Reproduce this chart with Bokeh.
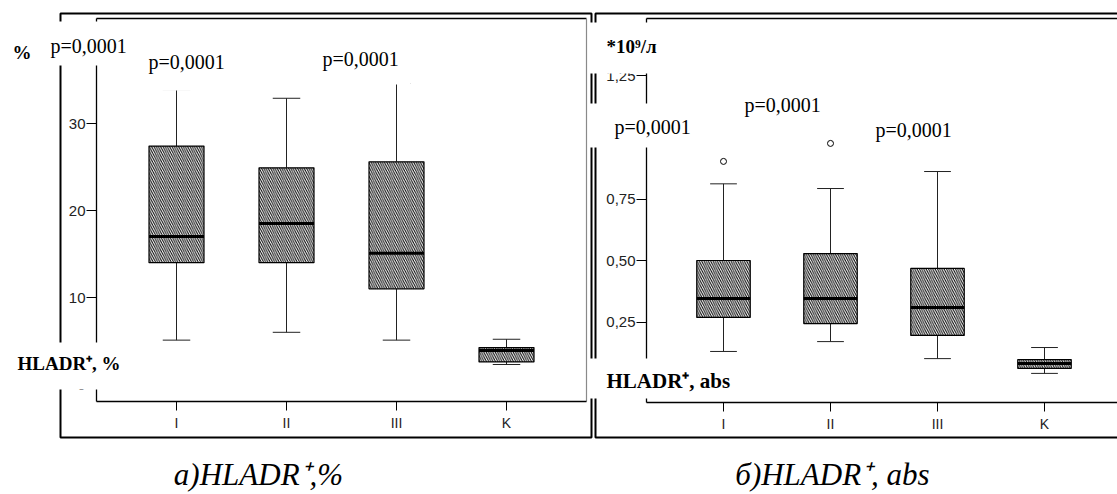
from bokeh.plotting import figure
from bokeh.models import Range1d, LinearAxis, FixedTicker, BoxAnnotation, Label
from bokeh.embed import file_html
from bokeh.resources import INLINE

# ---------------- data ----------------
groups = ["I", "II", "III", "K"]
group_pos = [1, 2, 3, 4]

pct_lower = [5.1, 6.0, 5.1, 2.3]
pct_q1 = [14.0, 14.0, 11.0, 2.6]
pct_median = [17.0, 18.5, 15.1, 3.9]
pct_q3 = [27.4, 24.9, 25.6, 4.25]
pct_upper = [33.9, 32.9, 34.6, 5.2]

abs_lower = [0.132, 0.172, 0.103, 0.043]
abs_q1 = [0.270, 0.245, 0.197, 0.063]
abs_median = [0.347, 0.347, 0.310, 0.083]
abs_q3 = [0.501, 0.529, 0.469, 0.099]
abs_upper = [0.812, 0.793, 0.862, 0.148]
abs_outlier_pos = [1, 2]
abs_outlier_value = [0.903, 0.976]

pct_ticks = [0, 10, 20, 30]
abs_ticks = [0, 0.25, 0.5, 0.75, 1.0, 1.25]
abs_tick_labels = ["0,00", "0,25", "0,50", "0,75", "1,00", "1,25"]
p_label = "p=0,0001"

# ---------------- layout helpers (picture pixel -> data) ----------------
W, H = 1117, 494


def lx(px):
    return 1 + (px - 176) / 110.0


def ly(py):
    return (384 - py) / 8.7


def rx(px):
    return 1 + (px - 723) / 107.0


def ry(py):
    return (383.5 - py) / 246.5


p = figure(width=W, height=H,
           x_range=Range1d(lx(0), lx(W)),
           y_range=Range1d(ly(H), ly(0)),
           x_axis_type=None, y_axis_type=None,
           toolbar_location=None, output_backend="svg",
           min_border=0, outline_line_color=None,
           background_fill_color="white", border_fill_color="white")
p.extra_x_ranges = {"rx": Range1d(rx(0), rx(W))}
p.extra_y_ranges = {"ry": Range1d(ry(H), ry(0))}

# ---------------- frames ----------------
p.quad(left=[lx(60)], right=[lx(591)], top=[ly(13)], bottom=[ly(437)],
       fill_color=None, line_color="black", line_width=2)
p.quad(left=[lx(595)], right=[lx(1140)], top=[ly(13)], bottom=[ly(437)],
       fill_color=None, line_color="black", line_width=2)
p.segment(x0=[lx(96), lx(646)], y0=[ly(18), ly(18)], x1=[lx(586), lx(1140)], y1=[ly(18), ly(18)],
          line_color="black", line_width=1.3)
p.segment(x0=[lx(586)], y0=[ly(18)], x1=[lx(586)], y1=[ly(401)],
          line_color="#8a8a8a", line_width=1.2)


def draw_boxes(pos, lower, q1, med, q3, upper, **kw):
    cap = 0.125
    half = 0.25
    p.segment(x0=pos, y0=q3, x1=pos, y1=upper, line_color="#222", line_width=1, **kw)
    p.segment(x0=pos, y0=q1, x1=pos, y1=lower, line_color="#222", line_width=1, **kw)
    p.segment(x0=[x - cap for x in pos], y0=upper, x1=[x + cap for x in pos], y1=upper,
              line_color="#222", line_width=1, **kw)
    p.segment(x0=[x - cap for x in pos], y0=lower, x1=[x + cap for x in pos], y1=lower,
              line_color="#222", line_width=1, **kw)
    p.vbar(x=pos, width=2 * half, bottom=q1, top=q3, fill_color="white",
           line_color="black", line_width=1.2,
           hatch_pattern="left_diagonal_line", hatch_color="black",
           hatch_scale=4.5, hatch_weight=1, **kw)
    p.segment(x0=[x - half for x in pos], y0=med, x1=[x + half for x in pos], y1=med,
              line_color="black", line_width=3, **kw)


draw_boxes(group_pos, pct_lower, pct_q1, pct_median, pct_q3, pct_upper)
draw_boxes(group_pos, abs_lower, abs_q1, abs_median, abs_q3, abs_upper,
           x_range_name="rx", y_range_name="ry")
p.scatter(x=abs_outlier_pos, y=abs_outlier_value, marker="circle", size=6,
          fill_color="white", line_color="black", line_width=1,
          x_range_name="rx", y_range_name="ry")

# ---------------- axes ----------------
axis_style = dict(axis_line_color="black", axis_line_width=1.3,
                  major_tick_line_color="black", major_tick_line_width=1,
                  major_tick_in=0, minor_tick_in=0, minor_tick_out=0,
                  major_label_text_font="Liberation Sans",
                  major_label_text_color="#222")

ya = LinearAxis(fixed_location=lx(96), bounds=(ly(401), ly(18)),
                ticker=FixedTicker(ticks=pct_ticks),
                major_tick_out=10, major_label_standoff=1,
                major_label_text_font_size="15px", **axis_style)
p.add_layout(ya, "left")
xa = LinearAxis(fixed_location=ly(401), bounds=(lx(96), lx(586)),
                ticker=FixedTicker(ticks=group_pos),
                major_label_overrides={k: v for k, v in zip(group_pos, groups)},
                major_tick_out=9, major_label_standoff=4,
                major_label_text_font_size="14px", **axis_style)
p.add_layout(xa, "below")

ya2 = LinearAxis(x_range_name="rx", y_range_name="ry",
                 fixed_location=rx(646), bounds=(ry(402), ry(18)),
                 ticker=FixedTicker(ticks=abs_ticks),
                 major_label_overrides={k: v for k, v in zip(abs_ticks, abs_tick_labels)},
                 major_tick_out=10, major_label_standoff=1,
                 major_label_text_font_size="15px", **axis_style)
p.add_layout(ya2, "left")
xa2 = LinearAxis(x_range_name="rx", y_range_name="ry",
                 fixed_location=ry(402), bounds=(rx(646), rx(1140)),
                 ticker=FixedTicker(ticks=group_pos),
                 major_label_overrides={k: v for k, v in zip(group_pos, groups)},
                 major_tick_out=9, major_label_standoff=4,
                 major_label_text_font_size="14px", **axis_style)
p.add_layout(xa2, "below")

# ---------------- pasted white label boxes ----------------
for (x0, x1, y0, y1) in [(0, 140, 21, 65), (0, 125, 342, 389),
                         (140, 235, 50, 90), (315, 410, 50, 84),
                         (588, 700, 22, 73), (588, 700, 103, 147),
                         (588, 745, 358, 398)]:
    p.add_layout(BoxAnnotation(left=lx(x0), right=lx(x1), top=ly(y0), bottom=ly(y1),
                               fill_color="white", fill_alpha=1.0, line_color=None))


def label(text, px, base, size, style="normal", font="Liberation Serif", align="left"):
    py = base - 0.32 * size
    p.add_layout(Label(x=lx(px), y=ly(py), text=text, text_font=font,
                       text_font_size=f"{size}px", text_font_style=style,
                       text_align=align, text_baseline="alphabetic",
                       text_color="black"))


label("%", 12, 58, 19, "bold")
label(p_label, 50, 52, 20)
label(p_label, 148, 68, 20)
label(p_label, 322, 65, 20)
label("HLADR⁺, %", 17, 369, 19, "bold")

label("*10⁹/л", 606, 52, 19, "bold")
label(p_label, 614, 133, 20)
label(p_label, 744, 111, 20)
label(p_label, 875, 136, 20)
label("HLADR⁺, abs", 606, 387, 21, "bold")

label("а)HLADR⁺,%", 258, 484, 31, "italic", align="center")
label("б)HLADR⁺, abs", 832, 484, 31, "italic", align="center")

open("out.html", "w").write(file_html(p, INLINE))
